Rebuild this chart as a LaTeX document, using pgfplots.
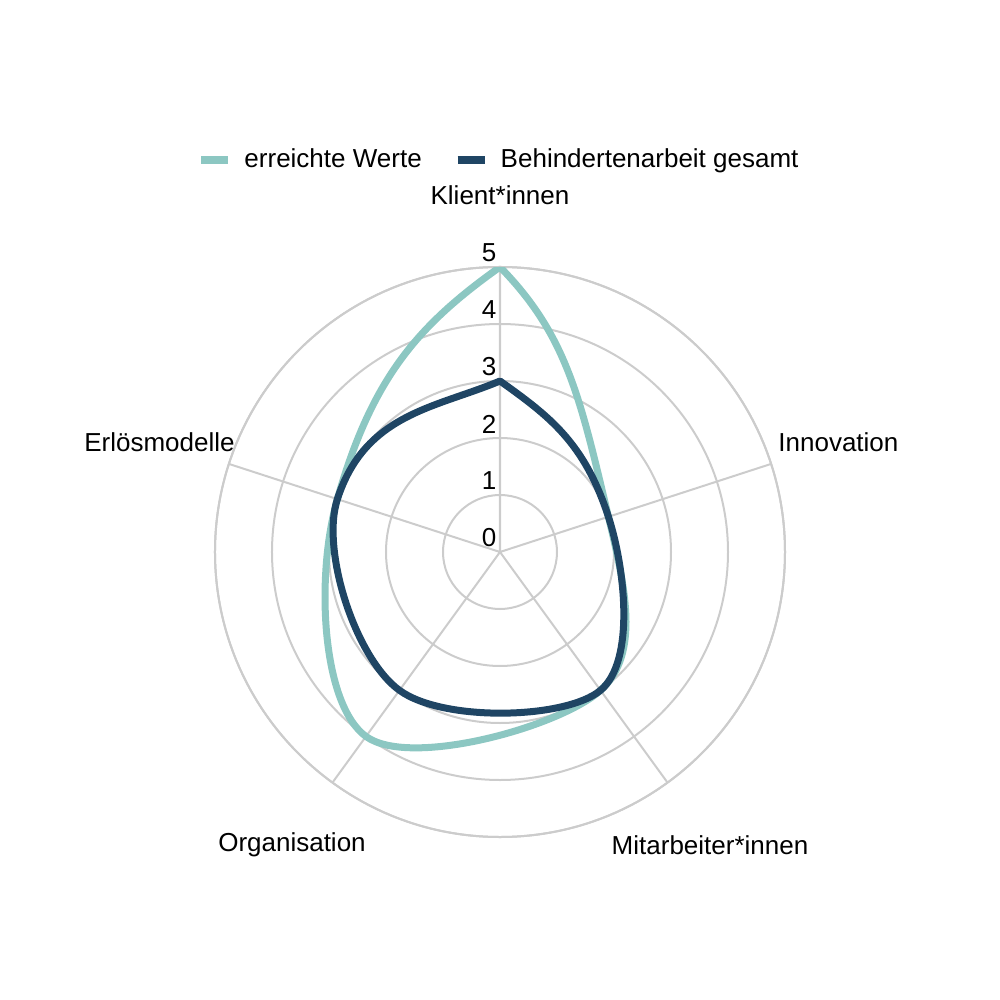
\documentclass[border=0pt]{standalone}
\usepackage{pgfplots}
\pgfplotsset{compat=1.18}
\usepgfplotslibrary{polar}
\usepackage{fontspec}
\setmainfont{Liberation Sans}

\definecolor{tealc}{HTML}{8CC7C2}
\definecolor{navyc}{HTML}{1F4564}
\definecolor{gridc}{HTML}{CCCCCC}

% smoothing as in the source chart: Catmull-Rom inside; the two segments that
% meet at the first (= last) point bow outwards and leave a corner there
\makeatletter
\newcount\xs@n \newcount\xs@i \newcount\xs@j \newcount\xs@k
\def\xs@f{0.1667}  % interior tension
\def\xs@ca{0.35}   % control length at the corner, share of the chord
\def\xs@cb{0.45}   % control length at the inner end, share of the chord
\def\xs@X#1{\csname xs@x#1\endcsname}
\def\xs@Y#1{\csname xs@y#1\endcsname}
\def\pgfplothandlerexcelsmooth{%
  \def\pgf@plotstreamstart{%
    \global\xs@n=0
    \global\let\pgf@plotstreampoint=\xs@point
    \global\let\pgf@plotstreamspecial=\pgfutil@gobble
    \global\let\pgf@plotstreamend=\xs@end
  }%
}
\def\xs@point#1{%
  \pgf@process{#1}%
  \global\advance\xs@n by 1
  \expandafter\xdef\csname xs@x\the\xs@n\endcsname{\pgf@sys@tonumber\pgf@x}%
  \expandafter\xdef\csname xs@y\the\xs@n\endcsname{\pgf@sys@tonumber\pgf@y}%
}
% chord #1 -> #2: length, angle, and the turn towards the closed tangent
\def\xs@endgeom#1#2{%
  \pgfmathsetmacro\xs@dx{(\xs@X{#2})-(\xs@X{#1})}%
  \pgfmathsetmacro\xs@dy{(\xs@Y{#2})-(\xs@Y{#1})}%
  \pgfmathsetmacro\xs@L{veclen(\xs@dx,\xs@dy)}%
  \pgfmathsetmacro\xs@phi{atan2(\xs@dy,\xs@dx)}%
  \pgfmathsetmacro\xs@th{\xs@psi-\xs@phi}%
  \ifdim\xs@th pt>180pt \pgfmathsetmacro\xs@th{\xs@th-360}\fi
  \ifdim\xs@th pt<-180pt \pgfmathsetmacro\xs@th{\xs@th+360}\fi
  \pgfmathsetmacro\xs@del{\xs@th/3}%
}
% unit vector of the interior tangent at point #1
\def\xs@unit#1{%
  \pgfmathsetmacro\xs@tl{veclen(\csname xs@tx#1\endcsname,\csname xs@ty#1\endcsname)}%
  \pgfmathsetmacro\xs@ux{(\csname xs@tx#1\endcsname)/\xs@tl}%
  \pgfmathsetmacro\xs@uy{(\csname xs@ty#1\endcsname)/\xs@tl}%
}
\def\xs@tangents{%
  \ifnum\xs@i<\xs@n
    \xs@j=\xs@i \advance\xs@j by 1
    \xs@k=\xs@i \advance\xs@k by -1
    \pgfmathsetmacro\xs@tmp{\xs@f*((\xs@X{\the\xs@j})-(\xs@X{\the\xs@k}))}%
    \expandafter\global\expandafter\let\csname xs@tx\the\xs@i\endcsname\xs@tmp
    \pgfmathsetmacro\xs@tmp{\xs@f*((\xs@Y{\the\xs@j})-(\xs@Y{\the\xs@k}))}%
    \expandafter\global\expandafter\let\csname xs@ty\the\xs@i\endcsname\xs@tmp
    \advance\xs@i by 1
    \expandafter\xs@tangents
  \fi}
\def\xs@segs{%
  \ifnum\xs@i<\xs@n
    \xs@j=\xs@i \advance\xs@j by 1
    \ifnum\xs@i=1
      \xs@endgeom{1}{2}\xs@unit{2}%
      \pgfmathsetmacro\xs@cax{(\xs@X{1})+\xs@ca*\xs@L*cos(\xs@phi+\xs@del)}%
      \pgfmathsetmacro\xs@cay{(\xs@Y{1})+\xs@ca*\xs@L*sin(\xs@phi+\xs@del)}%
      \pgfmathsetmacro\xs@cbx{(\xs@X{2})-\xs@cb*\xs@L*\xs@ux}%
      \pgfmathsetmacro\xs@cby{(\xs@Y{2})-\xs@cb*\xs@L*\xs@uy}%
    \else
      \ifnum\xs@j=\xs@n
        \xs@endgeom{\the\xs@i}{\the\xs@j}\xs@unit{\the\xs@i}%
        \pgfmathsetmacro\xs@cax{(\xs@X{\the\xs@i})+\xs@cb*\xs@L*\xs@ux}%
        \pgfmathsetmacro\xs@cay{(\xs@Y{\the\xs@i})+\xs@cb*\xs@L*\xs@uy}%
        \pgfmathsetmacro\xs@cbx{(\xs@X{\the\xs@j})-\xs@ca*\xs@L*cos(\xs@phi+\xs@del)}%
        \pgfmathsetmacro\xs@cby{(\xs@Y{\the\xs@j})-\xs@ca*\xs@L*sin(\xs@phi+\xs@del)}%
      \else
        \pgfmathsetmacro\xs@cax{(\xs@X{\the\xs@i})+(\csname xs@tx\the\xs@i\endcsname)}%
        \pgfmathsetmacro\xs@cay{(\xs@Y{\the\xs@i})+(\csname xs@ty\the\xs@i\endcsname)}%
        \pgfmathsetmacro\xs@cbx{(\xs@X{\the\xs@j})-(\csname xs@tx\the\xs@j\endcsname)}%
        \pgfmathsetmacro\xs@cby{(\xs@Y{\the\xs@j})-(\csname xs@ty\the\xs@j\endcsname)}%
      \fi
    \fi
    \pgfpathcurveto{\pgfqpoint{\xs@cax pt}{\xs@cay pt}}{\pgfqpoint{\xs@cbx pt}{\xs@cby pt}}%
      {\pgfqpoint{\xs@X{\the\xs@j}pt}{\xs@Y{\the\xs@j}pt}}%
    \advance\xs@i by 1
    \expandafter\xs@segs
  \fi}
\def\xs@end{%
  \pgfpathmoveto{\pgfqpoint{\xs@X{1}pt}{\xs@Y{1}pt}}%
  \xs@k=\xs@n \advance\xs@k by -1
  \pgfmathsetmacro\xs@psi{atan2((\xs@Y{2})-(\xs@Y{\the\xs@k}),(\xs@X{2})-(\xs@X{\the\xs@k}))}%
  \xs@i=2 \xs@tangents
  \xs@i=1 \xs@segs
  \pgfpathclose
}
\tikzset{excel smooth/.code={\let\tikz@plot@handler=\pgfplothandlerexcelsmooth}}
\makeatother

\begin{document}
\begin{tikzpicture}[font=\fontsize{13}{15}\selectfont]
% 1px = 0.5pt; centre of the radar sits at (500,552) px of the 1000x1000 picture
\path[use as bounding box] (-250pt,-224pt) rectangle (250pt,276pt);
\begin{polaraxis}[
    at={(0pt,0pt)}, anchor=center,
    scale only axis, width=285pt, height=285pt,
    xmin=90, xmax=450,
    ymin=0, ymax=5,
    xtick={90,162,234,306,378},
    xticklabels={},
    ytick={1,2,3,4,5},
    yticklabels={},
    grid=major,
    major grid style={draw=gridc, line width=1pt},
    axis line style={draw=gridc, line width=1pt},
    major tick length=0pt,
    legend columns=2,
    legend style={at={(0.5,1.188)}, anchor=center, draw=none, fill=none,
        /tikz/every odd column/.append style={column sep=4pt},
        /tikz/every even column/.append style={column sep=14pt},
        font=\fontsize{13}{15}\selectfont},
    legend image code/.code={\draw[#1, line width=4pt] (0pt,0pt) -- (13.5pt,0pt);},
]
\addplot[draw=tealc, line width=3.5pt, excel smooth, line join=round] coordinates {
    (90,5) (378,2) (306,3) (234,4) (162,3) (90,5)
};
\addlegendentry{erreichte Werte}
\addplot[draw=navyc, line width=3.5pt, excel smooth, line join=round] coordinates {
    (90,3) (378,2) (306,3) (234,3) (162,3) (90,3)
};
\addlegendentry{Behindertenarbeit gesamt}
\end{polaraxis}
% radial value labels
\foreach \r in {0,...,5} {
    \node at (-5.5pt, {\r*28.5pt+7pt}) {\r};
}
% category labels
\node at (0pt,178.5pt) {Klient*innen};
\node[anchor=west, inner sep=0pt] at (139pt,55pt) {Innovation};
\node[anchor=east, inner sep=0pt] at (-132.5pt,55pt) {Erlösmodelle};
\node at (105pt,-146.5pt) {Mitarbeiter*innen};
\node at (-104pt,-146.5pt) {Organisation};
\end{tikzpicture}
\end{document}
